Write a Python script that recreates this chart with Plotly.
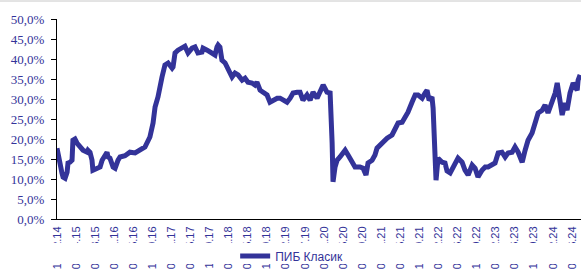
import plotly.graph_objects as go

# observation index (trading-day count from series start) and value in %
obs = [0, 9, 13, 22, 27, 36, 45, 49, 58, 67, 71, 80, 89, 103, 116, 134, 138, 147, 156, 160,
       178, 192, 201, 214, 223, 227, 236, 250, 259, 272, 281, 303, 325, 348, 370, 392, 414, 428,
       437, 450, 468, 481, 495, 513, 517, 526, 539, 557, 570, 584, 602, 615, 628, 646, 651, 669,
       682, 695, 704, 713, 718, 726, 735, 749, 758, 771, 780, 793, 807, 825, 838, 851, 869, 882,
       891, 905, 918, 936, 949, 963, 981, 994, 1007, 1025, 1039, 1052, 1070, 1083, 1096, 1114,
       1128, 1141, 1159, 1172, 1186, 1203, 1217, 1226, 1230, 1239, 1248, 1261, 1284, 1297, 1315,
       1328, 1350, 1364, 1377, 1386, 1404, 1417, 1426, 1449, 1471, 1493, 1506, 1520, 1538, 1551,
       1564, 1582, 1596, 1609, 1627, 1640, 1649, 1658, 1671, 1676, 1685, 1689, 1698, 1716, 1729,
       1738, 1752, 1765, 1787, 1805, 1818, 1832, 1850, 1863, 1876, 1894, 1908, 1921, 1939, 1952,
       1966, 1983, 1997, 2010, 2028, 2041, 2055, 2073, 2086, 2099, 2117, 2130, 2144, 2162, 2175,
       2188, 2206, 2220, 2229, 2237, 2251, 2264, 2273, 2286, 2300, 2318, 2322, 2331]
pib_klasik = [17.7, 14.5, 12.7, 11.5, 10.5, 10.2, 11.7, 14.0, 14.2, 14.7, 19.7, 20.0, 19.0, 18.0,
              17.2, 16.7, 17.2, 16.7, 14.7, 12.2, 12.7, 13.0, 14.7, 16.0, 16.7, 15.5, 15.2, 13.0,
              12.7, 14.7, 15.5, 15.8, 16.7, 16.5, 17.2, 18.0, 20.5, 24.0, 28.0, 30.5, 35.5, 38.5,
              39.0, 37.7, 38.0, 41.5, 42.2, 43.0, 43.2, 41.5, 42.7, 43.0, 41.5, 41.7, 42.7, 42.2,
              41.8, 41.5, 41.0, 43.0, 43.5, 43.0, 39.7, 39.0, 38.0, 36.7, 35.5, 36.5, 36.0, 34.7,
              35.2, 34.2, 34.0, 33.5, 34.2, 32.2, 31.7, 31.0, 29.2, 29.7, 30.2, 30.2, 29.7, 29.2,
              30.2, 31.5, 31.7, 31.7, 29.7, 31.0, 29.7, 31.7, 30.2, 31.7, 33.5, 31.7, 31.5, 19.0,
              9.3, 13.0, 14.7, 15.5, 17.2, 16.0, 14.0, 13.0, 13.0, 12.7, 11.0, 14.0, 14.7, 16.0,
              17.7, 19.2, 20.2, 21.0, 22.2, 24.0, 24.2, 25.2, 26.7, 29.2, 31.0, 31.0, 30.2, 31.5,
              32.2, 29.7, 30.5, 27.7, 14.7, 9.7, 15.2, 14.2, 14.0, 12.0, 11.5, 13.0, 15.2, 14.2,
              12.2, 11.0, 13.5, 12.7, 10.5, 12.2, 13.0, 13.0, 13.5, 14.0, 16.5, 16.7, 15.5, 16.5,
              16.7, 18.0, 16.7, 14.2, 17.2, 19.7, 21.5, 24.0, 26.5, 27.2, 28.5, 26.5, 29.0, 31.5,
              34.0, 31.5, 26.0, 29.0, 27.2, 31.5, 34.0, 32.2, 34.7, 36.0]

tick_obs = [0, 85, 170, 255, 340, 425, 510, 595, 680, 765, 850, 935, 1020, 1105, 1190, 1275,
            1360, 1445, 1530, 1615, 1700, 1785, 1870, 1955, 2040, 2125, 2210, 2295]
tick_labels = ["15.12.14", "06.04.15", "07.08.15", "08.01.16", "06.05.16", "12.09.16",
               "09.01.17", "05.05.17", "11.09.17", "05.01.18", "08.05.18", "10.09.18",
               "04.02.19", "03.07.19", "02.01.20", "05.05.20", "08.09.20", "05.01.21",
               "07.05.21", "13.09.21", "04.02.22", "06.06.22", "12.10.22", "06.02.23",
               "07.06.23", "16.10.23", "08.02.24", "07.06.24"]
y_ticks = [0, 5, 10, 15, 20, 25, 30, 35, 40, 45, 50]

series_name = "ПИБ Класик"
navy = "#333399"

fig = go.Figure()
fig.add_trace(go.Scatter(x=obs, y=[v / 100 for v in pib_klasik], mode="lines",
                         name=series_name, line=dict(color=navy, width=5)))

fig.update_layout(
    width=581, height=275,
    margin=dict(l=57, r=0, t=19, b=56),
    paper_bgcolor="white", plot_bgcolor="white",
    separators=", ",
    showlegend=True,
    legend=dict(orientation="h", x=0.34, xanchor="left", y=-0.185, yanchor="middle",
                font=dict(family="Liberation Sans, Arial", size=12, color=navy),
                bgcolor="rgba(0,0,0,0)"),
    xaxis=dict(range=[0, 2335], tickmode="array", tickvals=tick_obs, ticktext=tick_labels,
               tickangle=-90, showgrid=False, zeroline=False, showline=True,
               linecolor="black", linewidth=1, ticks="", ticklabelstandoff=2,
               tickfont=dict(family="Liberation Sans, Arial", size=11, color=navy)),
    yaxis=dict(range=[0, 0.5], tickmode="array", tickvals=[t / 100 for t in y_ticks],
               tickformat=".1%", showgrid=False, zeroline=False, showline=True,
               linecolor="black", linewidth=1, ticks="outside", ticklen=5,
               tickcolor="black", ticklabelstandoff=4,
               tickfont=dict(family="Liberation Serif, Times New Roman", size=13, color=navy)),
    shapes=[
        dict(type="rect", xref="paper", yref="paper", x0=-0.2, x1=1.01,
             y0=-0.12, y1=-0.225, fillcolor="white", line=dict(width=0), layer="above"),
        dict(type="line", xref="paper", yref="paper", x0=-0.2, x1=1.01,
             y0=1.09, y1=1.09, line=dict(color="#c8c8c8", width=1), layer="above"),
    ],
)

fig.write_html("out.html", config={"displayModeBar": False},
               post_script="document.body.style.margin='0px';document.body.style.overflow='hidden';")
